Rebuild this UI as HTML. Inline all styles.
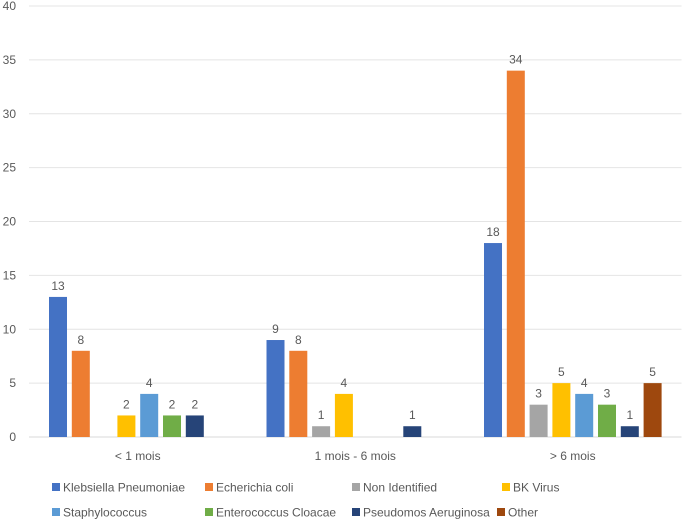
<!DOCTYPE html>
<html><head><meta charset="utf-8"><style>
body{margin:0;background:#fff;font-family:"Liberation Sans",sans-serif;}
svg text{font-family:"Liberation Sans",sans-serif;fill:#595959;font-size:12px;}
</style></head><body>
<svg id="chart" width="685" height="522" xmlns="http://www.w3.org/2000/svg"></svg>
<script>
const categories=["< 1 mois","1 mois - 6 mois","> 6 mois"];
const seriesNames=["Klebsiella Pneumoniae","Echerichia coli","Non Identified","BK Virus","Staphylococcus","Enterococcus Cloacae","Pseudomos Aeruginosa","Other"];
const seriesColors=["#4472c4","#ed7d31","#a5a5a5","#ffc000","#5b9bd5","#70ad47","#264478","#9e480e"];
const kleb=[13,9,18];
const ecoli=[8,8,34];
const nonId=[0,1,3];
const bk=[2,4,5];
const staph=[4,0,4];
const entero=[2,0,3];
const pseudo=[2,1,1];
const other=[0,0,5];
const yTicks=[0,5,10,15,20,25,30,35,40];
const series=[kleb,ecoli,nonId,bk,staph,entero,pseudo,other];
const svg=document.getElementById('chart');
const NS="http://www.w3.org/2000/svg";
const x0=29,x1=681.5,yBase=437,yTop=6,yMax=40;
const catW=(x1-x0)/categories.length;
const y=v=>yBase-(v/yMax)*(yBase-yTop);
function mk(t,a,p){const e=document.createElementNS(NS,t);for(const k in a)e.setAttribute(k,a[k]);(p||svg).appendChild(e);return e;}
yTicks.forEach(t=>{
 const l=mk('line',{x1:x0,x2:x1,y1:y(t),y2:y(t),stroke:t===0?'#d9d9d9':'#e4e4e4','stroke-width':1});
 
 
 const tx=mk('text',{x:16,y:y(t)+4,'text-anchor':'end'});tx.textContent=t;
 
 
});
const step=22.8,bw=18,off=20;
categories.forEach((c,ci)=>{
 const cx=x0+catW*ci;
 series.forEach((s,si)=>{
  const v=s[ci];if(!v)return;
  const bx=cx+off+si*step;
  const r=mk('rect',{x:bx,y:y(v),width:bw,height:yBase-y(v),fill:seriesColors[si]});
  
  
  const t=mk('text',{x:bx+bw/2,y:y(v)-7,'text-anchor':'middle'});t.textContent=v;
  
  
 });
 const lt=mk('text',{x:cx+catW/2,y:460,'text-anchor':'middle'});lt.textContent=c;
 
 
});
const legX=[52,205,352,502,52,205,352,497];
const legY=[487,487,487,487,512,512,512,512];
seriesNames.forEach((n,i)=>{
 const g=mk('g',{});
 
 
 mk('rect',{x:legX[i],y:legY[i]-4,width:8,height:8,fill:seriesColors[i]},g);
 const t=mk('text',{x:legX[i]+11,y:legY[i]+4.5},g);t.textContent=n;
});
</script>
</body></html>
